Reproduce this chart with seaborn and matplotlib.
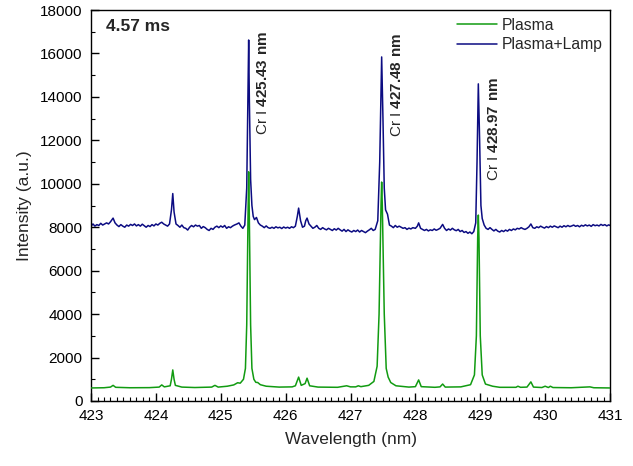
import numpy as np
import pandas as pd
import matplotlib
matplotlib.use("Agg")
import matplotlib.pyplot as plt
from matplotlib.ticker import MultipleLocator
import seaborn as sns


# Plasma + lamp spectrum
lamp_wl = [
    423.00, 423.03, 423.06, 423.09, 423.12, 423.15, 423.18, 423.21, 423.24, 423.27,
    423.30, 423.34, 423.37, 423.40, 423.43, 423.46, 423.49, 423.52, 423.55, 423.58,
    423.61, 423.64, 423.67, 423.70, 423.73, 423.76, 423.79, 423.82, 423.85, 423.88,
    423.91, 423.94, 423.97, 424.00, 424.03, 424.06, 424.09, 424.12, 424.15, 424.18,
    424.21, 424.24, 424.26, 424.28, 424.31, 424.34, 424.37, 424.40, 424.43, 424.46,
    424.49, 424.52, 424.55, 424.58, 424.61, 424.64, 424.67, 424.70, 424.73, 424.76,
    424.79, 424.82, 424.85, 424.88, 424.91, 424.94, 424.97, 425.00, 425.03, 425.06,
    425.09, 425.12, 425.15, 425.18, 425.21, 425.25, 425.28, 425.31, 425.34, 425.37,
    425.40, 425.42, 425.43, 425.44, 425.46, 425.48, 425.50, 425.52, 425.55, 425.58,
    425.61, 425.64, 425.67, 425.70, 425.73, 425.76, 425.79, 425.82, 425.85, 425.88,
    425.91, 425.94, 425.97, 426.00, 426.03, 426.06, 426.09, 426.12, 426.15, 426.18,
    426.20, 426.23, 426.26, 426.29, 426.31, 426.33, 426.36, 426.39, 426.42, 426.45,
    426.48, 426.51, 426.54, 426.57, 426.60, 426.63, 426.66, 426.69, 426.72, 426.75,
    426.78, 426.81, 426.84, 426.87, 426.90, 426.93, 426.96, 426.99, 427.02, 427.05,
    427.08, 427.11, 427.14, 427.17, 427.20, 427.23, 427.26, 427.29, 427.32, 427.35,
    427.38, 427.42, 427.45, 427.48, 427.50, 427.52, 427.54, 427.57, 427.60, 427.63,
    427.66, 427.69, 427.72, 427.75, 427.78, 427.81, 427.84, 427.87, 427.90, 427.93,
    427.96, 428.00, 428.03, 428.05, 428.08, 428.11, 428.14, 428.17, 428.20, 428.23,
    428.26, 428.29, 428.32, 428.35, 428.38, 428.42, 428.45, 428.48, 428.51, 428.54,
    428.57, 428.60, 428.63, 428.66, 428.69, 428.72, 428.75, 428.78, 428.81, 428.84,
    428.87, 428.90, 428.93, 428.95, 428.97, 428.99, 429.01, 429.03, 429.06, 429.09,
    429.12, 429.15, 429.18, 429.21, 429.24, 429.27, 429.30, 429.33, 429.36, 429.39,
    429.42, 429.45, 429.48, 429.51, 429.54, 429.57, 429.60, 429.63, 429.66, 429.69,
    429.72, 429.75, 429.78, 429.81, 429.84, 429.87, 429.90, 429.93, 429.96, 429.99,
    430.02, 430.05, 430.08, 430.11, 430.14, 430.17, 430.20, 430.23, 430.26, 430.29,
    430.32, 430.35, 430.38, 430.41, 430.44, 430.47, 430.50, 430.53, 430.56, 430.59,
    430.62, 430.65, 430.68, 430.71, 430.74, 430.77, 430.80, 430.83, 430.86, 430.89,
    430.92, 430.95, 430.98, 431.00,
]
lamp_int = [
    8050, 8150, 8050, 8120, 8080, 8180, 8100, 8150, 8200, 8150,
    8250, 8420, 8200, 8100, 8030, 8120, 8050, 8000, 8100, 8050,
    8130, 8080, 8150, 8060, 8120, 8050, 8140, 8070, 8000, 8080,
    8030, 8120, 8060, 8150, 8100, 8180, 8230, 8150, 8100, 8050,
    8150, 8800, 9550, 8700, 8150, 8080, 8000, 8100, 7980, 7950,
    7870, 8000, 8080, 8020, 8100, 8050, 8080, 7950, 8030, 7980,
    7900, 7850, 7950, 7900, 8000, 8050, 7980, 8060, 8000, 8080,
    7950, 8020, 7980, 8050, 8100, 8150, 8200, 8050, 7950, 8100,
    9800, 14500, 16620, 14000, 10200, 9000, 8500, 8350, 8450, 8200,
    8100, 8050, 7980, 8060, 7980, 7950, 8000, 7950, 8020, 7970,
    8000, 7940, 8010, 7960, 8000, 7950, 8020, 7980, 8050, 8500,
    8880, 8300, 8000, 8050, 8300, 8420, 8150, 8050, 7950, 8000,
    8080, 7950, 7900, 7980, 7920, 7880, 7950, 7900, 7850, 7930,
    7870, 7950, 7880, 7820, 7900, 7800, 7880, 7820, 7780, 7850,
    7800, 7870, 7780, 7850, 7800, 7750, 7820, 7880, 7950, 7850,
    7900, 8300, 11000, 15840, 13000, 9800, 8800, 8600, 8100, 8050,
    7980, 8080, 8000, 8050, 8000, 7950, 7980, 7900, 7960, 7920,
    7980, 7950, 8050, 8200, 7950, 7900, 7850, 7900, 7830, 7880,
    7850, 7920, 7860, 7900, 7950, 8130, 7950, 7850, 7920, 7870,
    7950, 7880, 7840, 7900, 7800, 7850, 7760, 7800, 7720, 7780,
    7700, 7800, 8200, 11000, 14600, 12000, 9000, 8400, 8100, 7950,
    7900, 7980, 7900, 7830, 7900, 7820, 7780, 7850, 7800, 7870,
    7820, 7900, 7850, 7920, 7880, 7950, 7920, 7980, 7930, 7900,
    7950, 8020, 8150, 7980, 7950, 8020, 7980, 8050, 8000, 7960,
    8030, 7980, 8050, 8000, 8060, 8020, 7980, 8050, 8000, 8070,
    8020, 8080, 8030, 8060, 8100, 8040, 8080, 8020, 8090, 8050,
    8110, 8060, 8100, 8040, 8120, 8070, 8100, 8060, 8130, 8080,
    8120, 8060, 8110, 8080,
]

# Plasma only spectrum
plasma_wl = [
    423.00, 423.20, 423.30, 423.34, 423.38, 423.60, 423.90, 424.05, 424.09, 424.13,
    424.22, 424.24, 424.26, 424.28, 424.30, 424.40, 424.60, 424.86, 424.91, 424.96,
    425.10, 425.20, 425.26, 425.30, 425.35, 425.38, 425.40, 425.42, 425.43, 425.44,
    425.46, 425.48, 425.51, 425.54, 425.57, 425.61, 425.70, 425.90, 426.10, 426.15,
    426.20, 426.24, 426.30, 426.33, 426.37, 426.50, 426.80, 426.94, 427.00, 427.08,
    427.12, 427.16, 427.28, 427.36, 427.41, 427.44, 427.47, 427.48, 427.49, 427.52,
    427.55, 427.58, 427.62, 427.70, 427.90, 428.00, 428.05, 428.09, 428.30, 428.38,
    428.42, 428.46, 428.70, 428.85, 428.91, 428.94, 428.96, 428.97, 428.98, 429.00,
    429.03, 429.08, 429.19, 429.30, 429.55, 429.58, 429.62, 429.72, 429.78, 429.82,
    429.95, 430.00, 430.05, 430.08, 430.12, 430.40, 430.69, 430.75, 431.00,
]
plasma_int = [
    600, 610, 640, 720, 630, 610, 615, 640, 740, 650,
    700, 1000, 1430, 1000, 720, 640, 620, 640, 720, 640,
    680, 740, 840, 820, 1000, 1500, 3500, 8500, 10550, 8500,
    3500, 1500, 1000, 860, 850, 750, 680, 640, 650, 700,
    1100, 720, 800, 1050, 700, 640, 630, 700, 650, 650,
    700, 660, 720, 900, 1600, 4000, 9000, 10080, 9000, 4000,
    1500, 1100, 850, 700, 640, 660, 970, 660, 630, 650,
    780, 640, 650, 750, 1200, 3000, 7500, 8560, 7500, 3000,
    1200, 780, 680, 630, 630, 680, 630, 640, 880, 640,
    620, 680, 620, 680, 620, 610, 650, 610, 600,
]

line_labels = ["425.43", "427.48", "428.97"]
label_x = [425.65, 427.71, 429.21]
label_y = [12250, 12150, 10150]

lamp_df = pd.DataFrame({"wl": lamp_wl, "intensity": lamp_int})
plasma_df = pd.DataFrame({"wl": plasma_wl, "intensity": plasma_int})

sns.set_style("ticks")
plt.rcParams["font.family"] = ["Liberation Sans", "DejaVu Sans"]
plt.rcParams["mathtext.fontset"] = "custom"
plt.rcParams["mathtext.rm"] = "Liberation Sans"
plt.rcParams["mathtext.bf"] = "Liberation Sans:bold"

fig = plt.figure(figsize=(6.33, 4.66), dpi=100)
ax = fig.add_axes([0.1438, 0.1395, 0.8199, 0.839])

green = "#119b11"
navy = "#0c0c82"

sns.lineplot(data=lamp_df, x="wl", y="intensity", ax=ax, color=navy,
             linewidth=1.1, estimator=None, label="Plasma+Lamp", zorder=2)
sns.lineplot(data=plasma_df, x="wl", y="intensity", ax=ax, color=green,
             linewidth=1.1, estimator=None, label="Plasma", zorder=3)

ax.set_xlim(423, 431)
ax.set_ylim(0, 18000)
ax.xaxis.set_major_locator(MultipleLocator(1))
ax.xaxis.set_minor_locator(MultipleLocator(0.1))
ax.yaxis.set_major_locator(MultipleLocator(2000))
ax.yaxis.set_minor_locator(MultipleLocator(1000))
ax.tick_params(which="both", direction="in", top=False, right=False,
               labelsize=11, colors="black", pad=6)
ax.tick_params(which="major", length=6, width=1)
ax.tick_params(which="minor", length=3, width=0.8)
for sp in ax.spines.values():
    sp.set_visible(True)
    sp.set_linewidth(1)
    sp.set_color("black")

ax.set_xlabel("Wavelength (nm)", fontsize=12.5, labelpad=6)
ax.set_ylabel("Intensity (a.u.)", fontsize=12.5, labelpad=6)

ax.text(0.029, 0.958, "4.57 ms", transform=ax.transAxes, fontsize=12.5,
        fontweight="bold", ha="left", va="center")

for lab, x, y in zip(line_labels, label_x, label_y):
    ax.text(x, y, r"Cr I $\mathbf{" + lab + r"\ nm}$", rotation=90,
            ha="center", va="bottom", fontsize=11)

handles, labels = ax.get_legend_handles_labels()
order = [labels.index("Plasma"), labels.index("Plasma+Lamp")]
ax.legend([handles[i] for i in order], [labels[i] for i in order],
          loc="upper right", frameon=False, fontsize=11.3, handlelength=2.5,
          borderaxespad=0.1, labelspacing=0.28, handletextpad=0.3,
          bbox_to_anchor=(1.0, 1.0))

fig.savefig("out.png", dpi=100)
